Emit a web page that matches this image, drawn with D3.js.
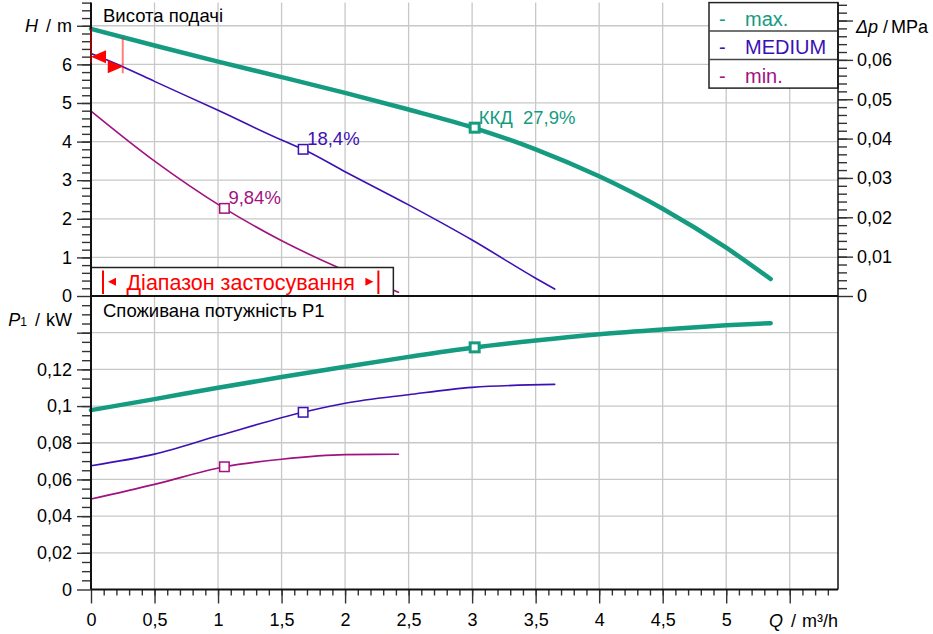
<!DOCTYPE html>
<html>
<head>
<meta charset="utf-8">
<script src="https://cdn.jsdelivr.net/npm/d3@7"></script>
<style>
  body { margin: 0; background: #fff; }
  svg text { font-family: "Liberation Sans", Arial, sans-serif; }
</style>
</head>
<body>
<script>
// ticks
var qTickVals = [0, 0.5, 1, 1.5, 2, 2.5, 3, 3.5, 4, 4.5, 5, 5.5],
    qTickLabels = ["0", "0,5", "1", "1,5", "2", "2,5", "3", "3,5", "4", "4,5", "5", ""],
    hTickVals = [0, 1, 2, 3, 4, 5, 6, 7],
    hTickLabels = ["0", "1", "2", "3", "4", "5", "6", ""],
    pTickVals = [0, 0.02, 0.04, 0.06, 0.08, 0.1, 0.12, 0.14],
    pTickLabels = ["0", "0,02", "0,04", "0,06", "0,08", "0,1", "0,12", ""],
    dpTickVals = [0, 0.01, 0.02, 0.03, 0.04, 0.05, 0.06, 0.07],
    dpTickLabels = ["0", "0,01", "0,02", "0,03", "0,04", "0,05", "0,06", ""];

var seriesNames = ["max.", "MEDIUM", "min."],
    seriesColors = ["#149b80", "#3c10b4", "#a1127f"];

// head curves H(Q)
var qMaxH = [0, 0.5, 1, 1.5, 2, 2.5, 3, 3.5, 4, 4.5, 5, 5.35],
    hMax  = [6.92, 6.49, 6.07, 5.67, 5.26, 4.83, 4.37, 3.80, 3.10, 2.26, 1.25, 0.44];
var qMedH = [0, 0.25, 0.5, 1, 1.5, 1.67, 2, 2.5, 3, 3.5, 3.65],
    hMed  = [6.28, 5.94, 5.56, 4.81, 4.04, 3.80, 3.22, 2.36, 1.45, 0.46, 0.18];
var qMinH = [0, 0.49, 1.05, 1.49, 1.95, 2.42],
    hMin  = [4.79, 3.52, 2.27, 1.45, 0.73, 0.10];

// power curves P1(Q)
var qMaxP = [0, 0.5, 1, 1.5, 2, 2.5, 3, 3.5, 4, 4.5, 5, 5.35],
    pMax  = [0.0978, 0.1038, 0.110, 0.1158, 0.1214, 0.1268, 0.1318, 0.1358, 0.1392, 0.1418, 0.1440, 0.1452];
var qMedP = [0, 0.5, 1, 1.67, 2, 2.5, 3, 3.65],
    pMed  = [0.0675, 0.0738, 0.0838, 0.0966, 0.1015, 0.1062, 0.1102, 0.1118];
var qMinP = [0, 0.5, 1.05, 1.5, 2, 2.42],
    pMin  = [0.0493, 0.0573, 0.0669, 0.071, 0.0735, 0.0737];

// best efficiency points
var dutyQ = [3.02, 1.67, 1.05],
    dutyH = [4.36, 3.80, 2.27],
    dutyP = [0.1320, 0.0966, 0.0669],
    dutyLabels = ["ККД  27,9%", "18,4%", "9,84%"];

// operating range on the MEDIUM curve (top left marks)
var rangeQ = [0, 0.25],
    rangeTipH = [6.2, 5.94],
    rangeLineTop = [6.92, 6.69],
    rangeLineBot = [6.04, 5.77],
    rangeBoxQ = 2.38;

var width = 933, height = 634;
var svg = d3.select("body").append("svg")
    .attr("width", width).attr("height", height);

var x = d3.scaleLinear().domain([0, 5.88]).range([91, 838]),
    yH = d3.scaleLinear().domain([0, 7.6]).range([296, 2.6]),
    yDp = d3.scaleLinear().domain([0, 7.6 * 0.00981]).range([296, 2.6]),
    yP = d3.scaleLinear().domain([0, 0.16]).range([589.5, 296]);

var gridColor = "#c8c8c8";

// grid
var grid = svg.append("g");
grid.selectAll(".vg").data(qTickVals.slice(1)).enter().append("line")
    .attr("x1", d => x(d)).attr("x2", d => x(d))
    .attr("y1", yH.range()[1]).attr("y2", yP(0))
    .attr("stroke", gridColor).attr("stroke-width", 1.3);
grid.selectAll(".hg").data(hTickVals.slice(1)).enter().append("line")
    .attr("x1", x(0)).attr("x2", x.range()[1])
    .attr("y1", d => yH(d)).attr("y2", d => yH(d))
    .attr("stroke", gridColor).attr("stroke-width", 1.3);
grid.selectAll(".pg").data(pTickVals.slice(1)).enter().append("line")
    .attr("x1", x(0)).attr("x2", x.range()[1])
    .attr("y1", d => yP(d)).attr("y2", d => yP(d))
    .attr("stroke", gridColor).attr("stroke-width", 1.3);

// curves
function zip(qs, vs) { return qs.map((q, i) => ({q: q, v: vs[i]})); }
var lineH = d3.line().x(d => x(d.q)).y(d => yH(d.v)).curve(d3.curveMonotoneX),
    lineP = d3.line().x(d => x(d.q)).y(d => yP(d.v)).curve(d3.curveMonotoneX);

var headData = [zip(qMaxH, hMax), zip(qMedH, hMed), zip(qMinH, hMin)],
    powerData = [zip(qMaxP, pMax), zip(qMedP, pMed), zip(qMinP, pMin)],
    widths = [4.5, 1.6, 1.6];

headData.forEach(function(d, i) {
  svg.append("path").attr("d", lineH(d))
      .attr("fill", "none").attr("stroke", seriesColors[i])
      .attr("stroke-width", widths[i]).attr("stroke-linecap", "round");
});
powerData.forEach(function(d, i) {
  svg.append("path").attr("d", lineP(d))
      .attr("fill", "none").attr("stroke", seriesColors[i])
      .attr("stroke-width", widths[i]).attr("stroke-linecap", "round");
});

// duty point markers
dutyQ.forEach(function(q, i) {
  var s = i == 0 ? 9 : 9.5, sw = i == 0 ? 3 : 1.5;
  [yH(dutyH[i]), yP(dutyP[i])].forEach(function(cy) {
    svg.append("rect")
        .attr("x", x(q) - s / 2).attr("y", cy - s / 2)
        .attr("width", s).attr("height", s)
        .attr("fill", "#fff").attr("stroke", seriesColors[i]).attr("stroke-width", sw);
  });
  svg.append("text")
      .attr("x", x(q) + 4).attr("y", yH(dutyH[i]) - 4)
      .style("white-space", "pre")
      .attr("font-size", 18.5).attr("fill", seriesColors[i])
      .text(dutyLabels[i]);
});

// operating range marks
var red = "#ff0000";
rangeQ.forEach(function(q, i) {
  svg.append("line")
      .attr("x1", x(q)).attr("x2", x(q))
      .attr("y1", yH(rangeLineTop[i])).attr("y2", yH(rangeLineBot[i]))
      .attr("stroke", red).attr("stroke-opacity", 0.5).attr("stroke-width", 2);
  var tx = x(q), ty = yH(rangeTipH[i]), dir = i == 0 ? 1 : -1;
  svg.append("path")
      .attr("d", "M" + tx + "," + ty + "L" + (tx + dir * 15) + "," + (ty - 6.5) +
                 "L" + (tx + dir * 15) + "," + (ty + 6.5) + "Z")
      .attr("fill", red);
});

// application range box
var bx0 = x(0), bx1 = x(rangeBoxQ), by1 = yH(0), by0 = by1 - 28.5;
svg.append("rect")
    .attr("x", bx0).attr("y", by0).attr("width", bx1 - bx0).attr("height", by1 - by0)
    .attr("fill", "#fff").attr("stroke", "#222").attr("stroke-width", 1.5);
[bx0 + 12, bx1 - 15].forEach(function(px, i) {
  svg.append("line").attr("x1", px).attr("x2", px)
      .attr("y1", by0 + 3).attr("y2", by1 - 2)
      .attr("stroke", red).attr("stroke-width", 2);
  var cy = (by0 + by1) / 2, dir = i == 0 ? 1 : -1, tx = px + dir * 5;
  svg.append("path")
      .attr("d", "M" + tx + "," + cy + "L" + (tx + dir * 8) + "," + (cy - 4) +
                 "L" + (tx + dir * 8) + "," + (cy + 4) + "Z")
      .attr("fill", red);
});
svg.append("text")
    .attr("x", (bx0 + 12 + bx1 - 15) / 2).attr("y", by1 - 6)
    .attr("text-anchor", "middle").attr("font-size", 21.5).attr("fill", red)
    .text("Діапазон застосування");

// legend
var lgX0 = 709, lgX1 = x.range()[1], lgY0 = 2.6, rowH = 28.5;
svg.append("rect")
    .attr("x", lgX0).attr("y", lgY0).attr("width", lgX1 - lgX0).attr("height", rowH * 3)
    .attr("fill", "#fff").attr("stroke", "#222").attr("stroke-width", 1.5);
seriesNames.forEach(function(n, i) {
  var top = lgY0 + i * rowH;
  if (i > 0) svg.append("line")
      .attr("x1", lgX0).attr("x2", lgX1).attr("y1", top).attr("y2", top)
      .attr("stroke", "#444").attr("stroke-width", 1.5);
  svg.append("text").attr("x", lgX0 + 10).attr("y", top + 23)
      .attr("font-size", 20).attr("fill", seriesColors[i]).text("-");
  svg.append("text").attr("x", lgX0 + 36).attr("y", top + 23)
      .attr("font-size", 20).attr("fill", seriesColors[i]).text(n);
});

// axes
function styleAxis(g) {
  g.attr("font-size", 18).attr("font-family", "Liberation Sans, Arial, sans-serif");
  g.select(".domain").remove();
  g.selectAll(".tick line").attr("stroke", "#333").attr("stroke-width", 1.4);
  g.selectAll(".tick text").attr("fill", "#000");
}

svg.append("g").attr("transform", "translate(" + x(0) + ",0)")
    .call(d3.axisLeft(yH).tickValues(d3.range(0.2, 7.61, 0.2)).tickFormat("").tickSize(9))
    .call(styleAxis);
svg.append("g").attr("transform", "translate(" + x(0) + ",0)")
    .call(d3.axisLeft(yH).tickValues(hTickVals).tickFormat((d, i) => hTickLabels[i]).tickSize(14).tickPadding(5))
    .call(styleAxis);
svg.append("g").attr("transform", "translate(" + x(0) + ",0)")
    .call(d3.axisLeft(yP).tickValues(d3.range(0.005, 0.156, 0.005)).tickFormat("").tickSize(9))
    .call(styleAxis);
svg.append("g").attr("transform", "translate(" + x(0) + ",0)")
    .call(d3.axisLeft(yP).tickValues(pTickVals).tickFormat((d, i) => pTickLabels[i]).tickSize(14).tickPadding(5))
    .call(styleAxis);
svg.append("g").attr("transform", "translate(" + x.range()[1] + ",0)")
    .call(d3.axisRight(yDp).tickValues(d3.range(0.002, 0.0745, 0.002)).tickFormat("").tickSize(9))
    .call(styleAxis);
svg.append("g").attr("transform", "translate(" + x.range()[1] + ",0)")
    .call(d3.axisRight(yDp).tickValues(dpTickVals).tickFormat((d, i) => dpTickLabels[i]).tickSize(15).tickPadding(4))
    .call(styleAxis);
svg.append("g").attr("transform", "translate(0," + yP(0) + ")")
    .call(d3.axisBottom(x).tickValues(d3.range(0.1, 5.85, 0.1)).tickFormat("").tickSize(6))
    .call(styleAxis);
svg.append("g").attr("transform", "translate(0," + yP(0) + ")")
    .call(d3.axisBottom(x).tickValues(qTickVals).tickFormat((d, i) => qTickLabels[i]).tickSize(14).tickPadding(10))
    .call(styleAxis);

// frame lines
svg.append("line").attr("x1", x(0)).attr("x2", x(0)).attr("y1", yH.range()[1]).attr("y2", yP(0))
    .attr("stroke", "#111").attr("stroke-width", 2);
svg.append("line").attr("x1", x.range()[1]).attr("x2", x.range()[1]).attr("y1", yH.range()[1]).attr("y2", yP(0))
    .attr("stroke", "#111").attr("stroke-width", 1.5);
svg.append("line").attr("x1", x(0)).attr("x2", x.range()[1]).attr("y1", yH(0)).attr("y2", yH(0))
    .attr("stroke", "#111").attr("stroke-width", 1.8);
svg.append("line").attr("x1", x(0)).attr("x2", x.range()[1]).attr("y1", yP(0)).attr("y2", yP(0))
    .attr("stroke", "#111").attr("stroke-width", 2);

// re-draw the left range mark over the axis line
svg.append("line")
    .attr("x1", x(rangeQ[0])).attr("x2", x(rangeQ[0]))
    .attr("y1", yH(rangeLineTop[0])).attr("y2", yH(rangeLineBot[0]))
    .attr("stroke", red).attr("stroke-opacity", 0.5).attr("stroke-width", 2);

// titles and axis labels
svg.append("text").attr("x", 103).attr("y", 22).attr("font-size", 18.5).text("Висота подачі");
svg.append("text").attr("x", 103).attr("y", yH(0) + 21).attr("font-size", 18.5).text("Споживана потужність P1");

function axisLabel(px, py, anchor, italic, sub, rest, gap) {
  var t = svg.append("text").attr("x", px).attr("y", py)
      .attr("text-anchor", anchor).attr("font-size", 18);
  t.append("tspan").attr("font-style", "italic").text(italic);
  if (sub) t.append("tspan").attr("font-size", 12).text(sub);
  t.append("tspan").attr("dx", gap).text("/");
  t.append("tspan").attr("dx", gap - 2).text(rest);
  return t;
}
axisLabel(72, yH(7) + 6, "end", "H", null, "m", 8);
axisLabel(72, yP(0.14) - 7, "end", "P", "1", "kW", 8);
axisLabel(856, yH(7) + 7, "start", "Δp", null, "MPa", 5);
axisLabel(x.range()[1], yP(0) + 37, "end", "Q", null, "m³/h", 8);
</script>
</body>
</html>
